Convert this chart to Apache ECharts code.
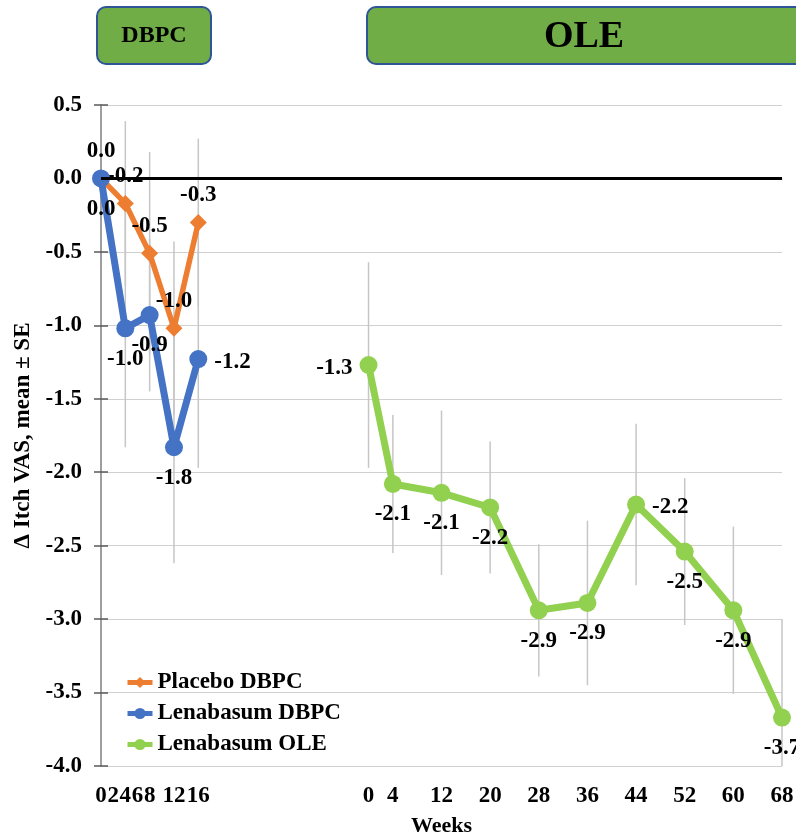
<!DOCTYPE html>
<html><head><meta charset="utf-8">
<script src="https://cdn.jsdelivr.net/npm/echarts@6/dist/echarts.min.js"></script>
<style>html,body{margin:0;padding:0;background:#fff}#c{width:796px;height:838px}</style>
</head><body><div id="c"></div>
<script>
// ---- data ----
const DBPC_WEEKS = [0, 4, 8, 12, 16];
const PLACEBO_MEAN = [0.0, -0.17, -0.51, -1.02, -0.30];
const PLACEBO_SE = [0, 0.56, 0.69, 0.59, 0.57];
const LENA_DBPC_MEAN = [0.0, -1.02, -0.93, -1.83, -1.23];
const LENA_DBPC_SE = [0, 0.81, 0.52, 0.79, 0.74];
const OLE_WEEKS = [0, 4, 12, 20, 28, 36, 44, 52, 60, 68];
const LENA_OLE_MEAN = [-1.27, -2.08, -2.14, -2.24, -2.94, -2.89, -2.22, -2.54, -2.94, -3.67];
const LENA_OLE_SE = [0.70, 0.47, 0.56, 0.45, 0.45, 0.56, 0.55, 0.50, 0.57, 0.67];
const DBPC_TICK_LABELS = ['0', '2', '4', '6', '8', '12', '16'];
const OLE_TICK_LABELS = ['0', '4', '12', '20', '28', '36', '44', '52', '60', '68'];
const SERIES_NAMES = ['Placebo DBPC', 'Lenabasum DBPC', 'Lenabasum OLE'];
const HEADERS = ['DBPC', 'OLE'];
const Y_NAME = 'Δ Itch VAS, mean ± SE';
const X_NAME = 'Weeks';

// ---- layout / style ----
const OLE_OFFSET = 44;          // where the OLE period starts on the shared week axis
const Y_MIN = -4, Y_MAX = 0.5, Y_STEP = 0.5;
const FONT = "'Times New Roman', 'Liberation Serif', serif";
const PLACEBO_LABEL_POS = ['top', 'top', 'top', 'top', 'top'];
const LENA_DBPC_LABEL_POS = ['bottom', 'bottom', 'bottom', 'bottom', 'right'];
const LENA_OLE_LABEL_POS = ['left', 'bottom', 'bottom', 'bottom', 'bottom', 'bottom', 'right', 'bottom', 'bottom', 'bottom'];

const tickMap = {};
DBPC_TICK_LABELS.forEach(t => { tickMap[Number(t)] = t; });
OLE_TICK_LABELS.forEach(t => { tickMap[Number(t) + OLE_OFFSET] = t; });
const tickValues = Object.keys(tickMap).map(Number).sort((a, b) => a - b);

const bold = (size) => ({ fontSize: size, fontWeight: 'bold', fontFamily: FONT, color: '#000' });

function lineData(weeks, means, positions, offset) {
  return weeks.map((w, i) => {
    const pos = positions[i];
    const dist = pos === 'top' ? 7 : (pos === 'bottom' ? 10 : 7);
    const off = (pos === 'left' || pos === 'right') ? [0, 3] : [0, 0];
    return { value: [w + offset, means[i]], label: { position: pos, distance: dist, offset: off } };
  });
}

function errSeries(weeks, means, ses, offset) {
  return {
    type: 'custom', silent: true, z: 1, legendHoverLink: false,
    data: weeks.map((w, i) => [w + offset, means[i] - ses[i], means[i] + ses[i]]),
    encode: { x: 0, y: [1, 2] },
    renderItem: (params, api) => {
      const x = api.value(0);
      const lo = Math.max(api.value(1), Y_MIN);
      const hi = Math.min(api.value(2), Y_MAX);
      const p1 = api.coord([x, lo]);
      const p2 = api.coord([x, hi]);
      return { type: 'line', shape: { x1: p1[0], y1: p1[1], x2: p2[0], y2: p2[1] },
               style: { stroke: '#c6c6c6', lineWidth: 1.5 } };
    }
  };
}

const labelCommon = {
  show: true, ...bold(23),
  formatter: p => p.value[1].toFixed(1)
};

const chart = echarts.init(document.getElementById('c'), null, { renderer: 'canvas' });
chart.setOption({
  animation: false,
  backgroundColor: '#fff',
  grid: { left: 101, right: 14, top: 105, bottom: 72, outerBoundsMode: 'none' },
  legend: {
    data: SERIES_NAMES, orient: 'vertical', left: 125, top: 671, padding: 0,
    itemWidth: 25, itemHeight: 14, itemGap: 8,
    lineStyle: { width: 5 },
    textStyle: bold(23)
  },
  xAxis: {
    type: 'value', min: 0, max: OLE_OFFSET + 68,
    axisLine: { show: true, lineStyle: { color: '#bfbfbf', width: 1.5 } },
    axisTick: { show: false },
    splitLine: { show: false },
    axisLabel: { ...bold(23), margin: 19, customValues: tickValues,
                 formatter: v => (tickMap[v] !== undefined ? tickMap[v] : '') },
    name: X_NAME, nameLocation: 'middle', nameGap: 49, nameTextStyle: bold(22)
  },
  yAxis: [{
    type: 'value', min: Y_MIN, max: Y_MAX, interval: Y_STEP,
    axisLine: { show: true, lineStyle: { color: '#7f7f7f', width: 1.5 } },
    axisTick: { show: true, inside: false, length: 7, lineStyle: { color: '#595959', width: 1.5 } },
    axisLabel: { ...bold(23), margin: 19, formatter: v => v.toFixed(1) },
    splitLine: { show: true, lineStyle: { color: '#d0d0d0', width: 1.2 } },
    name: Y_NAME, nameLocation: 'middle', nameGap: 62, nameTextStyle: bold(23)
  }, {
    type: 'value', min: Y_MIN, max: Y_MAX, interval: Y_STEP, position: 'left',
    axisLine: { show: false },
    axisTick: { show: true, inside: true, length: 7, lineStyle: { color: '#595959', width: 1.5 } },
    axisLabel: { show: false }, splitLine: { show: false }
  }],
  graphic: [
    { type: 'rect', shape: { x: 97, y: 7, width: 114, height: 57, r: 9 },
      style: { fill: '#70AD47', stroke: '#2F5597', lineWidth: 2 } },
    { type: 'text', x: 154, y: 36,
      style: { text: HEADERS[0], font: "bold 24px " + FONT, fill: '#000', align: 'center', verticalAlign: 'middle' } },
    { type: 'rect', shape: { x: 367, y: 7, width: 445, height: 57, r: 9 },
      style: { fill: '#70AD47', stroke: '#2F5597', lineWidth: 2 } },
    { type: 'text', x: 584, y: 37,
      style: { text: HEADERS[1], font: "bold 38px " + FONT, fill: '#000', align: 'center', verticalAlign: 'middle' } }
  ],
  series: [
    errSeries(DBPC_WEEKS, PLACEBO_MEAN, PLACEBO_SE, 0),
    errSeries(DBPC_WEEKS, LENA_DBPC_MEAN, LENA_DBPC_SE, 0),
    errSeries(OLE_WEEKS, LENA_OLE_MEAN, LENA_OLE_SE, OLE_OFFSET),
    {
      name: SERIES_NAMES[0], type: 'line', z: 3,
      data: lineData(DBPC_WEEKS, PLACEBO_MEAN, PLACEBO_LABEL_POS, 0),
      symbol: 'diamond', symbolSize: 17,
      itemStyle: { color: '#ED7D31' }, lineStyle: { color: '#ED7D31', width: 5.5 },
      label: labelCommon,
      markLine: { silent: true, symbol: 'none', label: { show: false },
                  lineStyle: { color: '#000', width: 3, type: 'solid' }, data: [{ yAxis: 0 }] }
    },
    {
      name: SERIES_NAMES[1], type: 'line', z: 4,
      data: lineData(DBPC_WEEKS, LENA_DBPC_MEAN, LENA_DBPC_LABEL_POS, 0),
      symbol: 'circle', symbolSize: 18,
      itemStyle: { color: '#4472C4' }, lineStyle: { color: '#4472C4', width: 7 },
      label: labelCommon
    },
    {
      name: SERIES_NAMES[2], type: 'line', z: 4,
      data: lineData(OLE_WEEKS, LENA_OLE_MEAN, LENA_OLE_LABEL_POS, OLE_OFFSET),
      symbol: 'circle', symbolSize: 18,
      itemStyle: { color: '#92D050' }, lineStyle: { color: '#92D050', width: 7 },
      label: labelCommon
    }
  ]
});
</script>
</body></html>
